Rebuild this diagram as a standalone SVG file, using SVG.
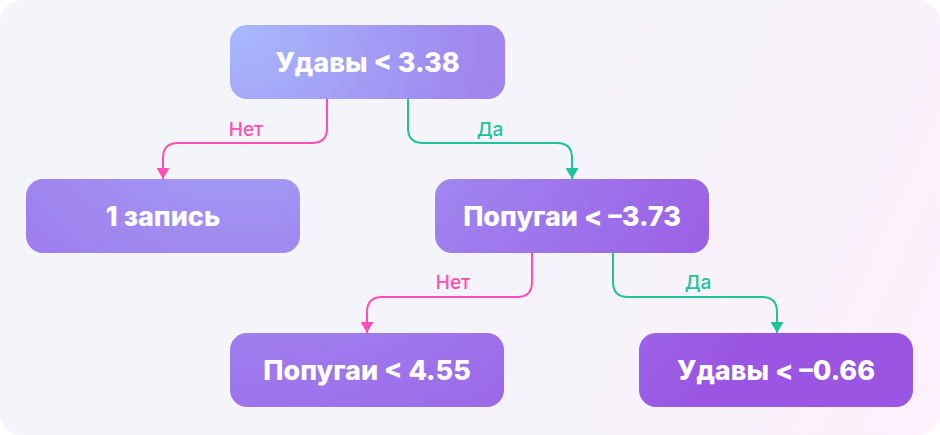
<svg xmlns="http://www.w3.org/2000/svg" width="940" height="435" viewBox="0 0 940 435">
<defs>
<linearGradient id="bg" x1="0" y1="0" x2="940" y2="435" gradientUnits="userSpaceOnUse">
<stop offset="0" stop-color="#F3F5F9"/>
<stop offset="0.55" stop-color="#F5F4FA"/>
<stop offset="1" stop-color="#FDF1FC"/>
</linearGradient>
<radialGradient id="ng" cx="240" cy="25" r="600" gradientUnits="userSpaceOnUse">
<stop offset="0" stop-color="#A8B8FE"/>
<stop offset="0.35" stop-color="#A08CF0"/>
<stop offset="0.6" stop-color="#9E76EC"/>
<stop offset="1" stop-color="#9A55E2"/>
</radialGradient>
<marker id="ap" viewBox="0 0 11 13" refX="11" refY="6.5" markerWidth="11" markerHeight="13" markerUnits="userSpaceOnUse" orient="auto">
<path d="M0,0 L11,6.5 L0,13 Z" fill="#FF4FB6"/>
</marker>
<marker id="ag" viewBox="0 0 11 13" refX="11" refY="6.5" markerWidth="11" markerHeight="13" markerUnits="userSpaceOnUse" orient="auto">
<path d="M0,0 L11,6.5 L0,13 Z" fill="#1FC39B"/>
</marker>
</defs>
<style>
.node rect{fill:url(#ng)}
.node text{font-family:Inter,"Open Sans","DejaVu Sans",sans-serif;font-weight:800;font-size:27px;fill:#FFFFFF;text-anchor:middle}
.no{fill:none;stroke:#FF4FB6;stroke-width:2}
.yes{fill:none;stroke:#1FC39B;stroke-width:2}
.lbl{font-family:Inter,"Open Sans","DejaVu Sans",sans-serif;font-weight:500;font-size:19px;text-anchor:middle}
.lno{fill:#FF4FB6}
.lyes{fill:#1FC39B}
</style>
<rect x="0" y="0" width="940" height="435" rx="22" fill="url(#bg)"/>
<g id="connectors">
<path class="no" d="M327,99 V128 Q327,143 312,143 H178 Q163,143 163,158 V179" marker-end="url(#ap)"/>
<path class="yes" d="M408,99 V128 Q408,143 423,143 H557 Q572,143 572,158 V179" marker-end="url(#ag)"/>
<path class="no" d="M532,253 V282 Q532,297 517,297 H382 Q367,297 367,312 V333" marker-end="url(#ap)"/>
<path class="yes" d="M613,253 V282 Q613,297 628,297 H762 Q777,297 777,312 V333" marker-end="url(#ag)"/>
<text class="lbl lno" x="246" y="136">Нет</text>
<text class="lbl lyes" x="490" y="136">Да</text>
<text class="lbl lno" x="453" y="289">Нет</text>
<text class="lbl lyes" x="698" y="289">Да</text>
</g>
<g id="n-root" class="node">
<rect x="230" y="25" width="275" height="74" rx="17"/>
<text x="367.5" y="72">Удавы &lt; 3.38</text>
</g>
<g id="n-one" class="node">
<rect x="26" y="179" width="274" height="74" rx="17"/>
<text x="163" y="226">1 запись</text>
</g>
<g id="n-parrots1" class="node">
<rect x="435" y="179" width="274" height="74" rx="17"/>
<text x="572" y="226">Попугаи &lt; –3.73</text>
</g>
<g id="n-parrots2" class="node">
<rect x="230" y="333" width="274" height="74" rx="17"/>
<text x="367" y="380">Попугаи &lt; 4.55</text>
</g>
<g id="n-boas2" class="node">
<rect x="639" y="333" width="274" height="74" rx="17"/>
<text x="776" y="380">Удавы &lt; –0.66</text>
</g>
</svg>
